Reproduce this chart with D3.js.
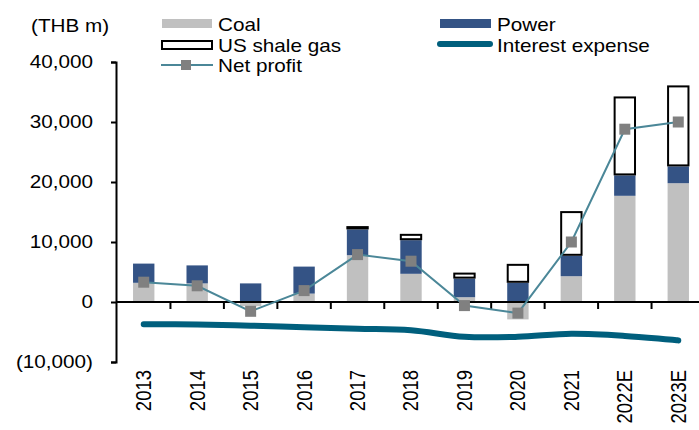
<!DOCTYPE html>
<html>
<head>
<meta charset="utf-8">
<script src="https://cdn.jsdelivr.net/npm/d3@7"></script>
<style>
body{margin:0;background:#fff;}
text{font-family:"Liberation Sans",Arial,sans-serif;fill:#000;}
</style>
</head>
<body>
<script>
/* coal / power / shale stacked bars, net profit and interest lines */
var years = ["2013","2014","2015","2016","2017","2018","2019","2020","2021","2022E","2023E"];
var coal = [3200, 3100, -700, 1400, 7800, 4700, 800, -2900, 4300, 17700, 19800];
var power = [3200, 3000, 3100, 4500, 4300, 5600, 3100, 3200, 3400, 3400, 2800];
var shale = [0, 0, 0, 0, 550, 1060, 1000, 3160, 7450, 13160, 13500];
var netProfit = [3300, 2700, -1550, 1900, 7900, 6800, -600, -1850, 10000, 28800, 30000];
var interest = [-3700, -3750, -3950, -4200, -4450, -4700, -5800, -5800, -5300, -5650, -6400];
var yTicks = [-10000, 0, 10000, 20000, 30000, 40000];

var width = 699, height = 430;
var sx = 1.15; // text in the original looks stretched sideways
var cCoal = "#c0c0c0", cPower = "#345385", cInterest = "#005f7d", cNet = "#4b8798", cMarker = "#808080";

var svg = d3.select("body").append("svg").attr("width", width).attr("height", height);

var x = d3.scaleBand().domain(years).range([117, 705]).paddingInner(0.6).paddingOuter(0.3);
var y = d3.scaleLinear().domain([-10000, 40000]).range([362, 62]);
var bw = x.bandwidth(), step = x.step();
var cx = function(d){ return x(d) + bw / 2; };

function label(g, tx, ty, str){
	return g.append("text").attr("transform", "translate(" + tx + "," + ty + ") scale(" + sx + ",1)")
		.style("font-size", "18px").text(str);
}

var table = years.map(function(yr, i){ return {year: yr, coal: coal[i], power: power[i], shale: shale[i]}; });
var series = d3.stack().keys(["coal","power","shale"]).offset(d3.stackOffsetDiverging)(table);

// coal + power bars
series.slice(0, 2).forEach(function(s){
	svg.append("g").selectAll("rect").data(s).enter().append("rect")
		.attr("x", function(d){ return x(d.data.year); })
		.attr("width", bw)
		.attr("y", function(d){ return y(Math.max(d[0], d[1])); })
		.attr("height", function(d){ return Math.abs(y(d[0]) - y(d[1])); })
		.attr("fill", s.key === "coal" ? cCoal : cPower);
});
// shale gas outlined boxes
svg.append("g").selectAll("rect").data(series[2].filter(function(d){ return d[1] - d[0] > 0; })).enter().append("rect")
	.attr("x", function(d){ return x(d.data.year) + 0.5; })
	.attr("width", bw - 1)
	.attr("y", function(d){ return y(d[1]) + 1; })
	.attr("height", function(d){ return Math.max(0, y(d[0]) - y(d[1]) - 2); })
	.attr("fill", "#fff").attr("stroke", "#000").attr("stroke-width", 2);

// y axis
var yAxis = svg.append("g").attr("transform", "translate(116,0)")
	.call(d3.axisLeft(y).tickValues(yTicks).tickSize(5).tickPadding(17)
		.tickFormat(function(v){ return v < 0 ? "(" + d3.format(",")(-v) + ")" : d3.format(",")(v); }));
yAxis.selectAll("path,line").attr("stroke", "#000").attr("stroke-width", 2);
yAxis.selectAll("text").attr("x", 0).attr("transform", "translate(-23,0) scale(" + sx + ",1)")
	.style("font-size", "18px").style("font-family", "'Liberation Sans',Arial,sans-serif");

// x axis at zero
var zero = y(0);
svg.append("line").attr("x1", 116).attr("x2", width).attr("y1", zero).attr("y2", zero)
	.attr("stroke", "#000").attr("stroke-width", 2);
svg.append("g").selectAll("line").data(years.slice(0, -1)).enter().append("line")
	.attr("x1", function(d){ return x(d) + bw + (step - bw) / 2; })
	.attr("x2", function(d){ return x(d) + bw + (step - bw) / 2; })
	.attr("y1", zero).attr("y2", zero + 7)
	.attr("stroke", "#000").attr("stroke-width", 2);
svg.append("g").selectAll("text").data(years).enter().append("text")
	.attr("transform", function(d){ return "translate(" + cx(d) + ",370) scale(" + sx + ",1) rotate(-90)"; })
	.attr("text-anchor", "end").attr("dy", "0.35em")
	.style("font-size", "18.5px")
	.text(function(d){ return d; });

// interest expense
var interestLine = d3.line().x(function(d, i){ return cx(years[i]); }).y(function(d){ return y(d); }).curve(d3.curveCatmullRom);
svg.append("path").datum(interest).attr("d", interestLine)
	.attr("fill", "none").attr("stroke", cInterest).attr("stroke-width", 6).attr("stroke-linecap", "round");

// net profit
var netLine = d3.line().x(function(d, i){ return cx(years[i]); }).y(function(d){ return y(d); });
svg.append("path").datum(netProfit).attr("d", netLine)
	.attr("fill", "none").attr("stroke", cNet).attr("stroke-width", 2);
svg.append("g").selectAll("rect").data(netProfit).enter().append("rect")
	.attr("x", function(d, i){ return cx(years[i]) - 5.5; })
	.attr("y", function(d){ return y(d) - 5.5; })
	.attr("width", 11).attr("height", 11).attr("fill", cMarker);

// unit label
label(svg, 31, 32, "(THB m)");

// legend
var lg = svg.append("g");
lg.append("rect").attr("x", 162).attr("y", 19).attr("width", 50).attr("height", 9).attr("fill", cCoal);
label(lg, 218, 31, "Coal");
lg.append("rect").attr("x", 440).attr("y", 19).attr("width", 51).attr("height", 9).attr("fill", cPower);
label(lg, 497, 31, "Power");
lg.append("rect").attr("x", 162).attr("y", 41).attr("width", 50).attr("height", 8).attr("fill", "#fff").attr("stroke", "#000").attr("stroke-width", 2);
label(lg, 218, 52, "US shale gas");
lg.append("line").attr("x1", 440).attr("x2", 490).attr("y1", 44).attr("y2", 44)
	.attr("stroke", cInterest).attr("stroke-width", 6).attr("stroke-linecap", "round");
label(lg, 497, 52, "Interest expense");
lg.append("line").attr("x1", 161).attr("x2", 213).attr("y1", 65).attr("y2", 65).attr("stroke", cNet).attr("stroke-width", 2);
lg.append("rect").attr("x", 181).attr("y", 60).attr("width", 10).attr("height", 10).attr("fill", cMarker);
label(lg, 218, 72, "Net profit");
</script>
</body>
</html>
